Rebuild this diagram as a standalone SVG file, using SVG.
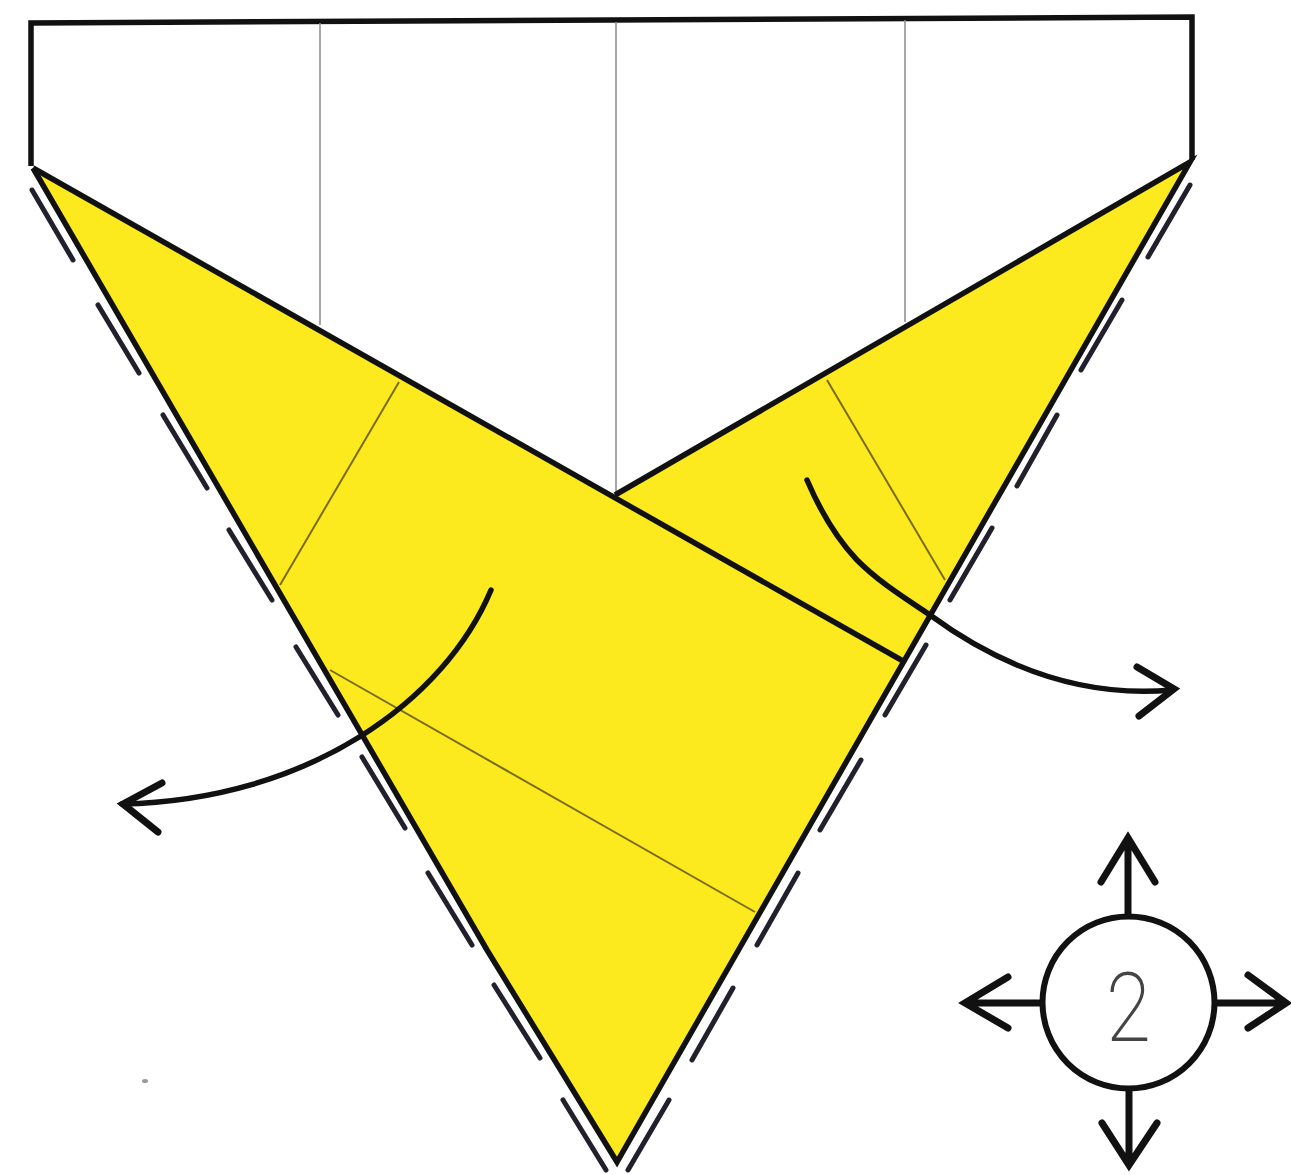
<svg xmlns="http://www.w3.org/2000/svg" width="1291" height="1175" viewBox="0 0 1291 1175">
<style>
.out{fill:none;stroke:#111;stroke-width:5.5;stroke-linejoin:miter;stroke-linecap:butt}
.thin{fill:none;stroke:#8a8a8a;stroke-width:1.5}
.fold{fill:none;stroke:#7a6c0c;stroke-width:2}
.dash{fill:none;stroke:#22202c;stroke-width:5;stroke-linecap:round}
.arr{fill:none;stroke:#111;stroke-width:5.5;stroke-linecap:round;stroke-linejoin:miter}
.head{fill:none;stroke:#111;stroke-width:7;stroke-linecap:round;stroke-linejoin:miter}
.sym{fill:none;stroke:#111;stroke-width:7;stroke-linecap:round;stroke-linejoin:miter}
</style>
<rect width="1291" height="1175" fill="#fff"/>
<g id="paper">
<path d="M33 168L487 950L617 1162L1190 162L615 495Z" fill="#fcea1e"/>
<path class="out" d="M31 166V23L1192 17V160"/>
</g>
<g id="creases">
<path class="thin" d="M320 23V325M616 22V495M905 20V322"/>
<path class="fold" d="M399 382L280 585M827 380L945 580M330 670L755 912"/>
</g>
<g id="edges">
<path class="out" d="M33 168L487 950L617 1162L1190 162L615 495"/>
<path class="out" d="M33 168L903 661"/>
</g>
<g id="dashes">
<path class="dash" d="M32 190L73 260M98 305L139 373M163 415L207 488M229 530L272 600M296 647L338 715M362 757L405 828M428 873L472 945M494 985L540 1058M563 1100L606 1170"/>
<path class="dash" d="M1190 185L1148 257M1122 300L1081 370M1057 415L1017 486M992 528L950 600M926 645L885 715M861 760L820 830M798 873L757 945M733 988L692 1060M669 1100L628 1170"/>
</g>
<g id="connectors">
<path class="arr" d="M491 590C445 700 310 800 122 804"/>
<path class="head" d="M162 783L123 804L158 832"/>
<path class="arr" d="M807 480C822 515 838 540 857 560C880 583 905 598 930 615C975 648 1060 700 1172 690"/>
<path class="head" d="M1137 667L1174 689L1139 716"/>
</g>
<g id="symbol">
<circle cx="1128.5" cy="1002.5" r="86" fill="#fff" stroke="#111" stroke-width="6"/>
<path class="sym" d="M1128 915V840M1101 882L1128 838L1155 882"/>
<path class="sym" d="M1040 1003H966M1008 977L965 1003L1008 1028"/>
<path class="sym" d="M1217 1003H1285M1248 975L1286 1003L1248 1028"/>
<path class="sym" d="M1129 1090V1164M1102 1123L1129 1165L1157 1123"/>
<text transform="translate(1128.5 1041) scale(.85 1)" text-anchor="middle" font-family="Roboto, 'Liberation Sans', sans-serif" font-weight="200" font-size="96" fill="#444">2</text>
</g>
<ellipse cx="145" cy="1081" rx="3" ry="2" fill="#999"/>
</svg>
